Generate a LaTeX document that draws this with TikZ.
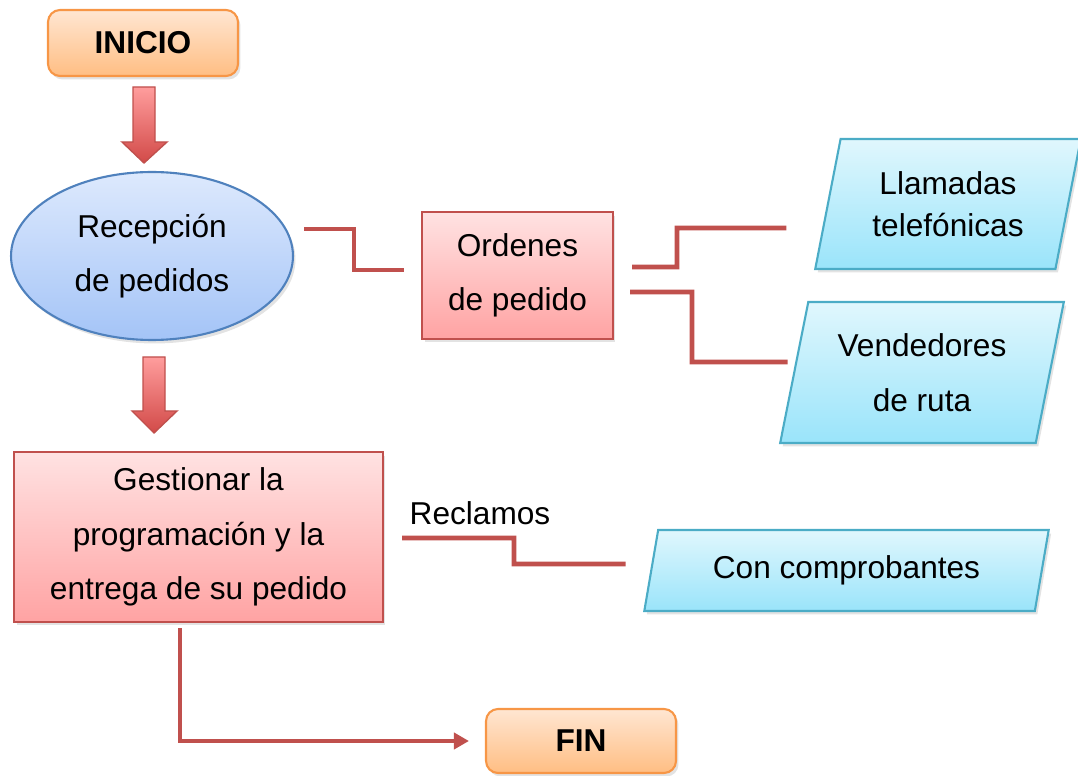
\documentclass[tikz,border=0pt]{standalone}
\usepackage{fontspec}
\setmainfont{Liberation Sans}
\usepackage{xcolor}
\usetikzlibrary{shapes.geometric,shadows,arrows.meta}
\definecolor{naranja}{HTML}{F79646}\definecolor{naranjaA}{HTML}{FFE6D2}\definecolor{naranjaB}{HTML}{FFBE83}
\definecolor{azul}{HTML}{4F81BD}\definecolor{azulA}{HTML}{DDE9FD}\definecolor{azulB}{HTML}{A4C4F7}
\definecolor{rojo}{HTML}{C0504D}\definecolor{rosaA}{HTML}{FFE2E2}\definecolor{rosaB}{HTML}{FFA3A3}
\definecolor{celeste}{HTML}{4BACC6}\definecolor{celesteA}{HTML}{E0F7FD}\definecolor{celesteB}{HTML}{9AE4FA}
\definecolor{flechaA}{HTML}{FF9D9D}\definecolor{flechaB}{HTML}{D24A48}
\tikzset{sombra/.style={drop shadow={shadow xshift=0.05cm,shadow yshift=-0.07cm,opacity=0.22}},
inicio/.style={draw=naranja,line width=1.2pt,rounded corners=0.24cm,top color=naranjaA,bottom color=naranjaB,font=\fontsize{18}{31}\selectfont\bfseries,minimum width=3.8cm,sombra},
proceso/.style={draw=rojo,line width=1.2pt,top color=rosaA,bottom color=rosaB,align=center,sombra},
datos/.style={trapezium,trapezium left angle=76,trapezium right angle=104,trapezium stretches=true,draw=celeste,line width=1.2pt,top color=celesteA,bottom color=celesteB,align=center,sombra},
conector/.style={draw=rojo,line width=2.8pt},
flecha/.style={draw=rojo,line width=0.8pt,top color=flechaA,bottom color=flechaB}}
\begin{document}
\begin{tikzpicture}[x=0.02cm,y=-0.02cm,font=\fontsize{18}{31}\selectfont]
\useasboundingbox(0,0)rectangle(1078,776);
\node[inicio,minimum height=1.32cm](ini)at(143,43){INICIO};
\node[ellipse,draw=azul,line width=1.2pt,top color=azulA,bottom color=azulB,minimum width=5.64cm,minimum height=3.36cm,inner sep=0pt,align=center,sombra](rec)at(152,256){Recepción\\de pedidos};
\node[proceso,minimum width=3.82cm,minimum height=2.54cm](ord)at(517.5,275.5){Ordenes\\de pedido};
\node[datos,minimum width=5.32cm,minimum height=2.6cm](llam)at(948,204){Llamadas\\[-7pt]telefónicas};
\node[datos,minimum width=5.68cm,minimum height=2.82cm](vend)at(922,372.5){Vendedores\\de ruta};
\node[proceso,minimum width=7.38cm,minimum height=3.4cm](gest)at(198.5,537){Gestionar la\\programación y la\\entrega de su pedido};
\node(recl)at(480,513){Reclamos};
\node[datos,minimum width=8.1cm,minimum height=1.62cm](con)at(846.5,570.5){Con comprobantes};
\node[inicio,minimum height=1.28cm](fin)at(581,741){FIN};
% flechas de bloque
\path[flecha](133,87)--(155,87)--(155,142)--(167,142)--(144,163)--(122,142)--(133,142)--cycle;
\path[flecha](143,357)--(165,357)--(165,411)--(177,411)--(154,433)--(132,411)--(143,411)--cycle;
% conectores
\draw[conector]([shift={(10,-27)}]rec.east)-|(354,270)--([shift={(-17,-5.5)}]ord.west);
\draw[conector]([shift={(18,-8.5)}]ord.east)-|(677,228)--([shift={(-40.5,24)}]llam.west);
\draw[conector]([shift={(16,16.5)}]ord.east)-|(692,362)--([shift={(-5.5,-10.5)}]vend.west);
\draw[conector]([shift={(18,1)}]gest.east)-|(514,564)--([shift={(-24.5,-6.5)}]con.west);
\draw[conector,-{Triangle[length=0.3cm,width=0.32cm]}]([shift={(-18.5,5)}]gest.south)|-([xshift=-0.32cm]fin.west);
\end{tikzpicture}
\end{document}
